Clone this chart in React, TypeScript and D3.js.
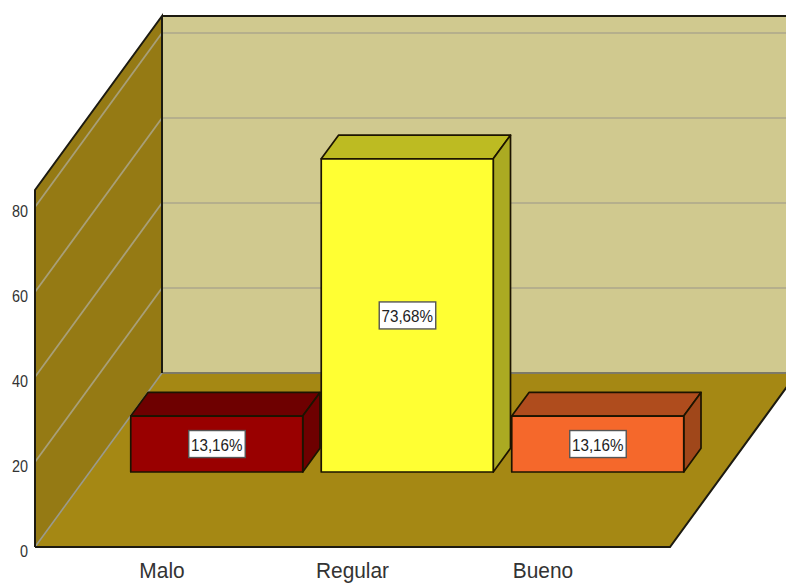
import React from "react";
import * as d3 from "d3";

// Share of responses per rating, in percent
const categories = ["Malo", "Regular", "Bueno"];
const values = [13.16, 73.68, 13.16];
const valueLabels = ["13,16%", "73,68%", "13,16%"];
const yTicks = [0, 20, 40, 60, 80];
const yMax = 84;

const faceColors = ["#990000", "#FFFF33", "#F5682B"];
const topColors = ["#6E0000", "#BDBB22", "#AF4C1D"];
const sideColors = ["#6E0000", "#ABAA22", "#A0471A"];

const FONT = "'Liberation Sans', Arial, sans-serif";
const WIDTH = 786;
const HEIGHT = 583;

// Oblique projection: depth 0 is the front of the floor, depth 1 the back wall
const DEPTH_X = 127;
const DEPTH_Y = -174;
const x = d3.scalePoint<string>().domain(categories).range([35, 670]).padding(2 / 3);
const y = d3.scaleLinear().domain([0, 100]).range([547, 122]);
const project = (px: number, py: number, depth: number): [number, number] => [
  px + DEPTH_X * depth,
  py + DEPTH_Y * depth,
];

const BAR_WIDTH = 172;
const BAR_NEAR = 0.431;
const BAR_FAR = 0.567;

const poly = (pts: [number, number][]) => (d3.line()(pts) ?? "") + "Z";

// Text set in a condensed proportion: taller glyphs at a fixed advance width
function NarrowText({
  px,
  py,
  size,
  squeeze,
  anchor,
  fill,
  children,
}: {
  px: number;
  py: number;
  size: number;
  squeeze: number;
  anchor: "middle" | "end";
  fill: string;
  children: React.ReactNode;
}) {
  return (
    <text
      transform={`translate(${px},${py}) scale(${squeeze},1)`}
      textAnchor={anchor}
      fontFamily={FONT}
      fontSize={size}
      fill={fill}
    >
      {children}
    </text>
  );
}

function Bar({ index }: { index: number }) {
  const cx = x(categories[index]) as number;
  const x0 = cx - BAR_WIDTH / 2;
  const x1 = cx + BAR_WIDTH / 2;
  const yTop = y(values[index]);
  const yBase = y(0);
  const a = project(x0, yTop, BAR_NEAR);
  const b = project(x1, yTop, BAR_NEAR);
  const c = project(x1, yBase, BAR_NEAR);
  const e = project(x0, yBase, BAR_NEAR);
  const aFar = project(x0, yTop, BAR_FAR);
  const bFar = project(x1, yTop, BAR_FAR);
  const cFar = project(x1, yBase, BAR_FAR);
  const labelX = (a[0] + b[0]) / 2;
  const labelY = (a[1] + e[1]) / 2;
  const stroke = { stroke: "#1c1400", strokeWidth: 1.7, strokeLinejoin: "round" as const };
  return (
    <g>
      <path d={poly([a, b, bFar, aFar])} fill={topColors[index]} {...stroke} />
      <path d={poly([b, c, cFar, bFar])} fill={sideColors[index]} {...stroke} />
      <path d={poly([a, b, c, e])} fill={faceColors[index]} {...stroke} />
      <rect
        x={labelX - 28}
        y={labelY - 13.5}
        width={56.5}
        height={27}
        fill="#fff"
        stroke="#555"
        strokeWidth={1.4}
      />
      <NarrowText px={labelX} py={labelY + 6.5} size={16.5} squeeze={0.92} anchor="middle" fill="#222">
        {valueLabels[index]}
      </NarrowText>
    </g>
  );
}

export default function App() {
  const xLeft = 35;
  const xRight = 670;
  const y0 = y(0);
  const yT = y(yMax);
  const backLeft = project(xLeft, y0, 1);
  const backRight = project(xRight, y0, 1);
  const backTopLeft = project(xLeft, yT, 1);
  const backTopRight = project(xRight, yT, 1);

  return (
    <svg
      width={WIDTH}
      height={HEIGHT}
      style={{ position: "absolute", left: 0, top: 0, background: "#fff" }}
    >
      {/* back wall */}
      <path d={poly([backTopLeft, backTopRight, backRight, backLeft])} fill="#D0C98F" />
      {/* side wall */}
      <path d={poly([[xLeft, yT], backTopLeft, backLeft, [xLeft, y0]])} fill="#957A14" />
      {/* floor */}
      <path d={poly([[xLeft, y0], [xRight, y0], backRight, backLeft])} fill="#A58814" />

      {/* gridlines across both walls */}
      {yTicks.slice(1).map((t) => {
        const front: [number, number] = [xLeft, y(t)];
        const back = project(xLeft, y(t), 1);
        const right = project(xRight, y(t), 1);
        return (
          <g key={t} fill="none" strokeWidth={1.8}>
            <path d={d3.line()([front, back]) ?? ""} stroke="#A89F78" />
            <path d={d3.line()([back, right]) ?? ""} stroke="#B5AF8C" />
          </g>
        );
      })}

      {/* wall and floor edges */}
      <path d={d3.line()([backLeft, backRight]) ?? ""} stroke="#7d7a68" strokeWidth={2.2} fill="none" />
      <path d={d3.line()([[xLeft, y0], backLeft]) ?? ""} stroke="#9a9a8c" strokeWidth={1.6} fill="none" />
      <path d={d3.line()([backTopLeft, backTopRight]) ?? ""} stroke="#1c1a10" strokeWidth={2} fill="none" />
      <path
        d={d3.line()([[xLeft, y0], [xLeft, yT], backTopLeft, backLeft]) ?? ""}
        stroke="#1c1a10"
        strokeWidth={2}
        fill="none"
      />
      <path
        d={d3.line()([[xLeft, y0], [xRight, y0], backRight]) ?? ""}
        stroke="#1c1a10"
        strokeWidth={2}
        fill="none"
      />

      {categories.map((_, i) => (
        <Bar key={categories[i]} index={i} />
      ))}

      {/* value axis */}
      {yTicks.map((t) => (
        <NarrowText key={t} px={28} py={y(t) + 9.5} size={16} squeeze={0.9} anchor="end" fill="#333">
          {t}
        </NarrowText>
      ))}

      {/* category axis */}
      {categories.map((c) => (
        <NarrowText key={c} px={x(c) as number} py={578} size={22} squeeze={0.95} anchor="middle" fill="#333">
          {c}
        </NarrowText>
      ))}
    </svg>
  );
}
